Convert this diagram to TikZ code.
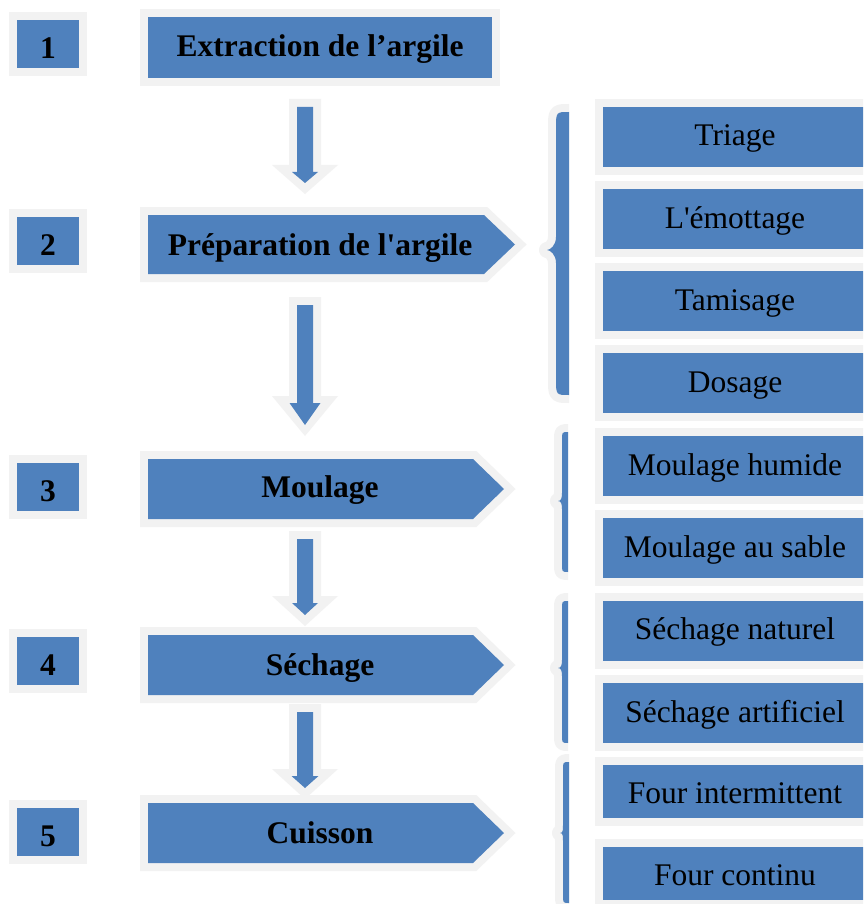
\documentclass[tikz,border=0pt]{standalone}
\usepackage{fontspec}
\setmainfont{Liberation Serif}[Ligatures=TeXOff]
\usetikzlibrary{calc}

\definecolor{stepblue}{HTML}{4F81BD}
\definecolor{halo}{HTML}{F2F2F2}

\tikzset{
  haloed/.style={fill=stepblue, preaction={draw=halo, line width=16pt, line join=miter}},
  bigfont/.style={font=\fontsize{31.5}{36}\selectfont},
  numbox/.style={haloed, rectangle, inner sep=0pt, minimum width=62pt, minimum height=48pt,
    text height=29pt, text depth=0pt, font=\fontsize{31.5}{36}\selectfont\bfseries},
  subbox/.style={haloed, rectangle, inner sep=0pt, minimum width=264pt, minimum height=60pt,
    text height=24pt, text depth=6pt, bigfont},
  shortbox/.style={subbox, minimum height=53pt, text height=29pt},
  steplabel/.style={anchor=base, inner sep=0pt, font=\fontsize{31.5}{36}\selectfont\bfseries},
}

% chevron-shaped step: top, bottom, end of body, tip
\newcommand\chevronstep[4]{%
  \path[haloed] (148,#1) -- (#3,#1) -- (#4,{(#1+#2)/2}) -- (#3,#2) -- (148,#2) -- cycle;}

% block arrow between two named points: head length, head half width
\newcommand\blockarrow[4]{%
  \fill[halo] ($(#1)+(-16,-8)$) -- ($(#1)+(16,-8)$) -- ($(#2)+(16,{-#3-7})$)
    -- ($(#2)+(33,{-#3-7})$) -- ($(#2)+(0,11)$) -- ($(#2)+(-33,{-#3-7})$)
    -- ($(#2)+(-16,{-#3-7})$) -- cycle;
  \fill[stepblue] ($(#1)+(-8,0)$) -- ($(#1)+(8,0)$) -- ($(#2)+(8,-#3)$)
    -- ($(#2)+(#4,-#3)$) -- (#2) -- ($(#2)+(-#4,-#3)$) -- ($(#2)+(-8,-#3)$) -- cycle;}

% left curly brace: right edge, inner edge, tip, top, bottom, middle, corner radius, tip length
\newcommand\groupbrace[8]{%
  \begin{scope}
    \clip ({#3-30},{#4-30}) rectangle (#1,{#5+30});
    \path[fill=stepblue, preaction={draw=halo, line width=16pt, line join=round}]
      (#1,#4) .. controls (#2,#4) .. (#2,{#4+#7})
      -- (#2,{#6-#8}) .. controls (#2,{#6-#8/3}) and ({#3+3},#6) .. (#3,#6)
      .. controls ({#3+3},#6) and (#2,{#6+#8/3}) .. (#2,{#6+#8})
      -- (#2,{#5-#7}) .. controls (#2,#5) .. (#1,#5) -- cycle;
  \end{scope}}

\begin{document}
\begin{tikzpicture}[x=1pt,y=-1pt]
\clip (0,0) rectangle (863,904);
\fill[white] (0,0) rectangle (863,904);

% step numbers
\foreach \n/\y in {1/44.5, 2/240.5, 3/487, 4/661, 5/831.5}
  \node[numbox] (n\n) at (48,\y) {\n};

% arrows between the steps
\coordinate (a1s) at (305,107); \coordinate (a1e) at (305,183);
\coordinate (a2s) at (305,305); \coordinate (a2e) at (305,425);
\coordinate (a3s) at (305,539); \coordinate (a3e) at (305,615);
\coordinate (a4s) at (305,712); \coordinate (a4e) at (305,788);
\blockarrow{a1s}{a1e}{11}{13}
\blockarrow{a2s}{a2e}{22}{15.5}
\blockarrow{a3s}{a3e}{12}{13}
\blockarrow{a4s}{a4e}{12}{13.5}

% main steps
\path[haloed] (148,17) rectangle (492,78);
\node[steplabel] (b1) at (320,57) {Extraction de l’argile};
\chevronstep{215}{274}{484}{515}
\node[steplabel] (b2) at (320,255) {Préparation de l'argile};
\chevronstep{459}{519}{473}{504}
\node[steplabel] (b3) at (320,497) {Moulage};
\chevronstep{635}{695}{473}{504}
\node[steplabel] (b4) at (320,675) {Séchage};
\chevronstep{803}{863}{473}{504}
\node[steplabel] (b5) at (320,843) {Cuisson};

% braces
\groupbrace{569}{556}{547}{112}{395}{250}{16}{13}
\groupbrace{568}{562}{558}{432}{572}{501}{8}{8}
\groupbrace{568}{562}{558}{601}{743}{668}{8}{8}
\groupbrace{569}{563}{560}{762}{903}{833}{8}{8}

% sub-operations
\node[subbox] (s1) at (735,137) {Triage};
\node[subbox] (s2) at (735,219) {L'émottage};
\node[subbox] (s3) at (735,301) {Tamisage};
\node[subbox] (s4) at (735,383) {Dosage};
\node[subbox] (s5) at (735,466) {Moulage humide};
\node[subbox] (s6) at (735,548) {Moulage au sable};
\node[subbox] (s7) at (735,630.5) {Séchage naturel};
\node[subbox] (s8) at (735,713) {Séchage artificiel};
\node[shortbox] (s9) at (735,791.5) {Four intermittent};
\node[shortbox] (s10) at (735,873.5) {Four continu};
\end{tikzpicture}
\end{document}
